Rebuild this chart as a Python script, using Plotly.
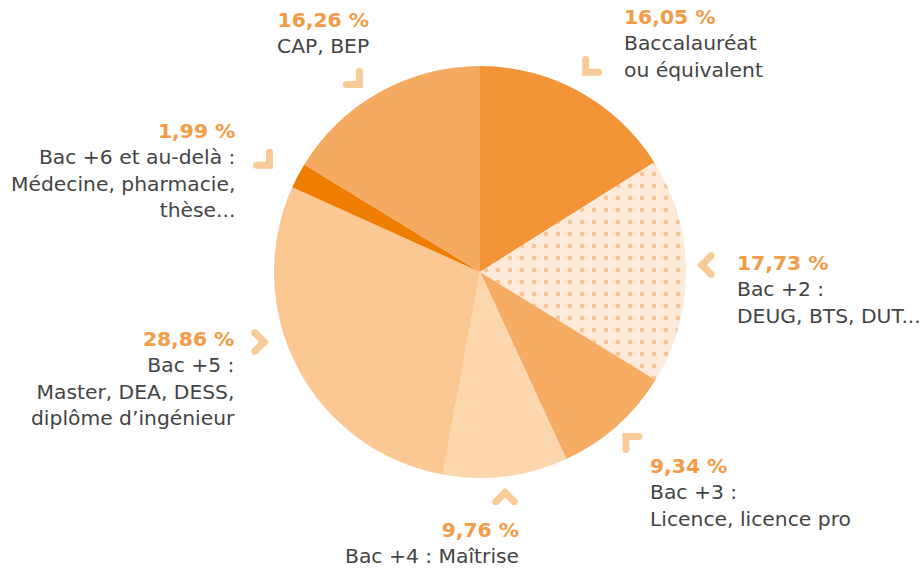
import math
import plotly.graph_objects as go

# ---- data ----
categories = [
    "Baccalauréat<br>ou équivalent",
    "Bac +2 :<br>DEUG, BTS, DUT...",
    "Bac +3 :<br>Licence, licence pro",
    "Bac +4 : Maîtrise",
    "Bac +5 :<br>Master, DEA, DESS,<br>diplôme d’ingénieur",
    "Bac +6 et au-delà :<br>Médecine, pharmacie,<br>thèse...",
    "CAP, BEP",
]
values = [16.05, 17.73, 9.34, 9.76, 28.86, 1.99, 16.26]
value_labels = ["16,05 %", "17,73 %", "9,34 %", "9,76 %", "28,86 %", "1,99 %", "16,26 %"]

# ---- styling / layout ----
W, H = 923, 572
CX, CY, R = 480, 272, 206
slice_colors = ["#F39437", "#FDEADA", "#F6AC63", "#FCD6AD", "#FBC893", "#EF7D00", "#F5AA61"]
pct_color = "#F39B45"
txt_color = "#444444"
chev_color = "#F9CB98"
FONT = "DejaVu Sans"

# label anchors: (x, top y, side)
label_pos = [
    (622, 3, "left"),
    (735, 249, "left"),
    (648, 452, "left"),
    (521, 516, "right"),
    (237, 325, "right"),
    (237, 117, "right"),
    (371, 6, "right"),
]
chev_angle_shift = [-1.0, -1.5, 0.0, 0.7, 9.7, -1.0, -3.5]
chev_radius = [226, 222, 220, 222, 227, 236, 223]

fig = go.Figure()

fig.add_trace(go.Pie(
    values=values,
    labels=[c.replace("<br>", " ") for c in categories],
    sort=False,
    direction="clockwise",
    rotation=0,
    textinfo="none",
    hoverinfo="skip",
    showlegend=False,
    marker=dict(
        colors=slice_colors,
        line=dict(width=0),
        pattern=dict(
            shape=["", ".", "", "", "", "", ""],
            fgcolor="#F4A257",
            bgcolor="#FDEADA",
            size=12,
            solidity=0.13,
            fillmode="overlay",
        ),
    ),
    domain=dict(x=[(CX - R) / W, (CX + R) / W], y=[(H - CY - R) / H, (H - CY + R) / H]),
))

# chevrons pointing toward the pie, placed at each slice's mid angle
total = sum(values)
cum = 0.0
arm = 13
for i, v in enumerate(values):
    mid = (cum + v / 2) / total * 360.0
    cum += v
    a = mid + chev_angle_shift[i]
    ra = chev_radius[i]
    ax_ = CX + ra * math.sin(math.radians(a))
    ay_ = CY - ra * math.cos(math.radians(a))
    orient = round(a / 45.0) * 45.0  # outward direction snapped
    ox, oy = math.sin(math.radians(orient)), -math.cos(math.radians(orient))
    px, py = -oy, ox
    c45 = math.cos(math.radians(45))
    p1 = (ax_ + arm * (ox * c45 + px * c45), ay_ + arm * (oy * c45 + py * c45))
    p2 = (ax_ + arm * (ox * c45 - px * c45), ay_ + arm * (oy * c45 - py * c45))
    fig.add_trace(go.Scatter(
        x=[p1[0], ax_, p2[0]], y=[p1[1], ay_, p2[1]],
        mode="lines+markers",
        line=dict(color=chev_color, width=7),
        marker=dict(color=chev_color, size=7, symbol="circle", line=dict(width=0)),
        hoverinfo="skip", showlegend=False,
    ))

for i, (x, y, side) in enumerate(label_pos):
    text = (f"<b><span style='color:{pct_color}'>{value_labels[i]}</span></b><br>"
            f"{categories[i]}")
    fig.add_annotation(
        x=x, y=y, xref="x", yref="y",
        xanchor=side, yanchor="top", align=side,
        text=text, showarrow=False,
        font=dict(family=FONT, size=20.3, color=txt_color),
    )

fig.update_layout(
    width=W, height=H,
    margin=dict(l=0, r=0, t=0, b=0),
    paper_bgcolor="white", plot_bgcolor="rgba(0,0,0,0)",
    xaxis=dict(range=[0, W], visible=False, fixedrange=True, domain=[0, 1]),
    yaxis=dict(range=[H, 0], visible=False, fixedrange=True, domain=[0, 1]),
    font=dict(family=FONT),
)

fig.write_html(
    "out.html",
    config={"displayModeBar": False},
    post_script="document.body.style.margin='0';document.body.style.overflow='hidden';",
)
